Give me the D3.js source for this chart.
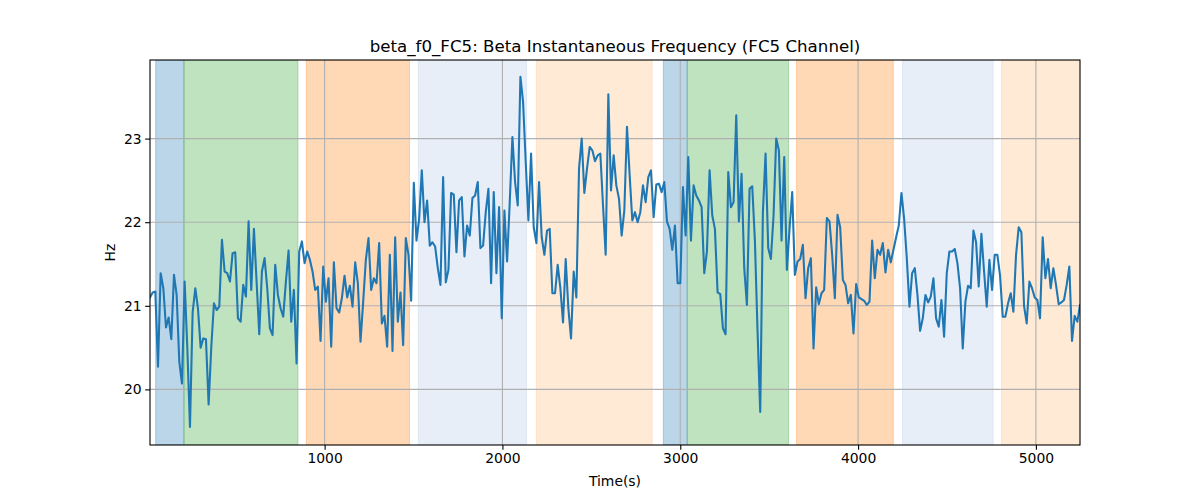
<!DOCTYPE html>
<html>
<head>
<meta charset="utf-8">
<script src="https://cdn.jsdelivr.net/npm/d3@7"></script>
<style>
  html, body { margin: 0; padding: 0; background: #ffffff; }
  svg { display: block; font-family: "DejaVu Sans", sans-serif; }
</style>
</head>
<body>
<svg id="chart" width="1200" height="500"></svg>
<script>
// ---- data ----
const chartTitle = "beta_f0_FC5: Beta Instantaneous Frequency (FC5 Channel)";
const xLabel = "Time(s)";
const yLabel = "Hz";

const timeStart = 18;     // first sample time (s)
const timeEnd = 5248;     // last sample time (s)

const freqValues = [
  21.10,21.16,21.17,20.27,21.39,21.21,20.74,20.86,20.60,21.37,21.13,20.33,20.07,21.29,20.50,19.55,20.92,21.21,20.97,20.50,
  20.61,20.60,19.82,20.51,21.03,20.95,20.99,21.79,21.41,21.39,21.29,21.63,21.64,20.85,20.81,21.25,21.11,22.01,21.19,21.92,
  21.29,20.66,21.41,21.57,21.21,20.73,20.65,21.49,21.13,20.97,20.87,21.29,21.66,20.81,21.19,20.31,21.65,21.77,21.51,
  21.65,21.55,21.41,21.19,21.23,20.58,21.47,21.05,21.33,20.51,21.52,20.97,20.92,21.09,21.36,21.10,21.24,20.99,21.52,21.27,
  20.57,21.05,21.55,21.81,21.19,21.33,21.27,21.75,20.79,20.88,20.51,21.61,20.46,21.82,20.81,21.16,20.53,21.81,21.61,21.06,
  22.47,21.78,22.04,22.62,22.00,22.26,21.72,21.76,21.71,21.45,21.25,22.54,21.28,21.43,22.35,22.33,21.64,22.26,
  22.30,21.59,21.96,21.84,22.29,22.32,22.48,21.69,21.72,22.12,22.40,21.27,22.36,21.39,22.18,20.85,22.14,21.53,22.24,23.02,
  22.48,22.20,23.74,23.44,22.72,22.02,22.82,21.94,21.75,22.48,21.82,21.61,21.90,21.92,21.15,21.15,21.49,21.21,20.80,21.56,
  20.97,20.61,21.41,21.10,22.64,23.00,22.35,22.64,22.90,22.86,22.73,22.80,22.82,22.20,21.61,23.53,22.38,22.80,
  22.44,22.28,21.84,22.14,23.14,22.56,22.02,22.12,22.00,22.12,22.44,22.24,22.54,22.62,22.06,22.45,22.46,22.36,22.48,22.01,
  21.92,21.67,21.96,21.27,21.27,22.42,21.84,22.78,21.78,22.44,22.32,22.26,22.18,21.39,21.65,22.62,22.08,21.92,21.16,21.14,
  20.73,20.66,22.60,22.18,22.24,23.28,22.01,22.58,21.45,21.01,22.40,22.43,21.78,20.69,19.73,22.12,22.82,21.69,
  21.56,22.08,23.00,22.86,21.78,22.78,21.43,21.92,22.36,21.37,21.53,21.56,21.73,21.09,21.45,21.57,20.49,21.22,21.02,21.15,
  21.19,22.05,22.01,21.61,21.09,22.09,21.94,21.31,21.25,21.03,21.13,20.67,21.26,21.10,21.08,21.06,21.01,21.05,21.78,21.33,
  21.67,21.61,21.75,21.40,21.67,21.52,21.67,21.82,21.96,22.35,22.04,21.57,20.99,21.39,21.45,21.13,20.70,20.85,
  21.13,21.04,21.11,21.33,20.85,20.75,21.07,20.63,21.39,21.65,21.65,21.68,21.51,21.21,20.49,21.05,21.24,21.21,21.90,21.76,
  21.23,21.86,21.41,20.99,21.55,21.19,21.61,21.61,21.36,20.87,20.87,21.03,21.15,20.93,21.61,21.94,21.88,21.00,20.79,21.29,
  21.21,21.10,21.07,20.85,21.82,21.33,21.56,21.21,21.45,21.25,21.02,21.04,21.07,21.25,21.47,20.58,20.88,20.81,21.01
];

// shaded segments
const spanStarts = [50, 209, 897, 1527, 2191, 2905, 3039, 3654, 4250, 4807];
const spanEnds   = [209, 850, 1477, 2135, 2842, 3039, 3609, 4198, 4760, 5260];
const spanColors = ["#1f77b4", "#2ca02c", "#ff7f0e", "#aec7e8", "#ffbb78",
                    "#1f77b4", "#2ca02c", "#ff7f0e", "#aec7e8", "#ffbb78"];

const xTicks = [1000, 2000, 3000, 4000, 5000];
const yTicks = [20, 21, 22, 23];
const yDomain = [19.335, 23.94];

// ---- layout ----
const L = 150, R = 1080, T = 60, B = 445;
const svg = d3.select("#chart");

const step = (timeEnd - timeStart) / (freqValues.length - 1);
const series = freqValues.map((v, i) => ({ t: timeStart + i * step, v }));

const x = d3.scaleLinear().domain([timeStart, timeEnd]).range([L, R]);
const y = d3.scaleLinear().domain(yDomain).range([B, T]);

svg.append("defs").append("clipPath").attr("id", "clip")
  .append("rect").attr("x", L).attr("y", T).attr("width", R - L).attr("height", B - T);

const plot = svg.append("g").attr("clip-path", "url(#clip)");

// spans
plot.selectAll("rect.span")
  .data(spanStarts.map((s, i) => ({ s, e: spanEnds[i], c: spanColors[i] })))
  .join("rect")
  .attr("class", "span")
  .attr("x", d => x(d.s))
  .attr("y", T)
  .attr("width", d => x(d.e) - x(d.s))
  .attr("height", B - T)
  .attr("fill", d => d.c)
  .attr("fill-opacity", 0.3)
  .attr("stroke", d => d.c)
  .attr("stroke-opacity", 0.3)
  .attr("stroke-width", 1);

// grid
plot.selectAll("line.gx").data(xTicks).join("line")
  .attr("x1", d => x(d)).attr("x2", d => x(d))
  .attr("y1", T).attr("y2", B)
  .attr("stroke", "#b0b0b0").attr("stroke-width", 1.1);
plot.selectAll("line.gy").data(yTicks).join("line")
  .attr("x1", L).attr("x2", R)
  .attr("y1", d => y(d)).attr("y2", d => y(d))
  .attr("stroke", "#b0b0b0").attr("stroke-width", 1.1);

// line
plot.append("path")
  .datum(series)
  .attr("fill", "none")
  .attr("stroke", "#1f77b4")
  .attr("stroke-width", 2.08)
  .attr("stroke-linejoin", "round")
  .attr("stroke-linecap", "square")
  .attr("d", d3.line().x(d => x(d.t)).y(d => y(d.v)));

// axes
const tickLen = 4.86;
const xAxis = d3.axisBottom(x).tickValues(xTicks).tickSize(tickLen).tickPadding(3.5).tickFormat(d3.format("d"));
const yAxis = d3.axisLeft(y).tickValues(yTicks).tickSize(tickLen).tickPadding(3.5).tickFormat(d3.format("d"));

const gx = svg.append("g").attr("transform", `translate(0,${B})`).call(xAxis);
const gy = svg.append("g").attr("transform", `translate(${L},0)`).call(yAxis);
[gx, gy].forEach(g => {
  g.select(".domain").remove();
  g.selectAll(".tick line").attr("stroke", "#000").attr("stroke-width", 1.1);
  g.selectAll(".tick text").attr("fill", "#000").attr("font-size", "13.9px")
    .attr("font-family", "DejaVu Sans, sans-serif");
});

// spines
svg.append("rect").attr("x", L).attr("y", T).attr("width", R - L).attr("height", B - T)
  .attr("fill", "none").attr("stroke", "#000").attr("stroke-width", 1.1);

// title and labels
svg.append("text").attr("x", (L + R) / 2).attr("y", 52)
  .attr("text-anchor", "middle").attr("font-size", "16.67px").attr("fill", "#000")
  .text(chartTitle);
svg.append("text").attr("x", (L + R) / 2).attr("y", 486)
  .attr("text-anchor", "middle").attr("font-size", "13.9px").attr("fill", "#000")
  .text(xLabel);
svg.append("text").attr("transform", `translate(115,${(T + B) / 2}) rotate(-90)`)
  .attr("text-anchor", "middle").attr("font-size", "13.9px").attr("fill", "#000")
  .text(yLabel);
</script>
</body>
</html>
